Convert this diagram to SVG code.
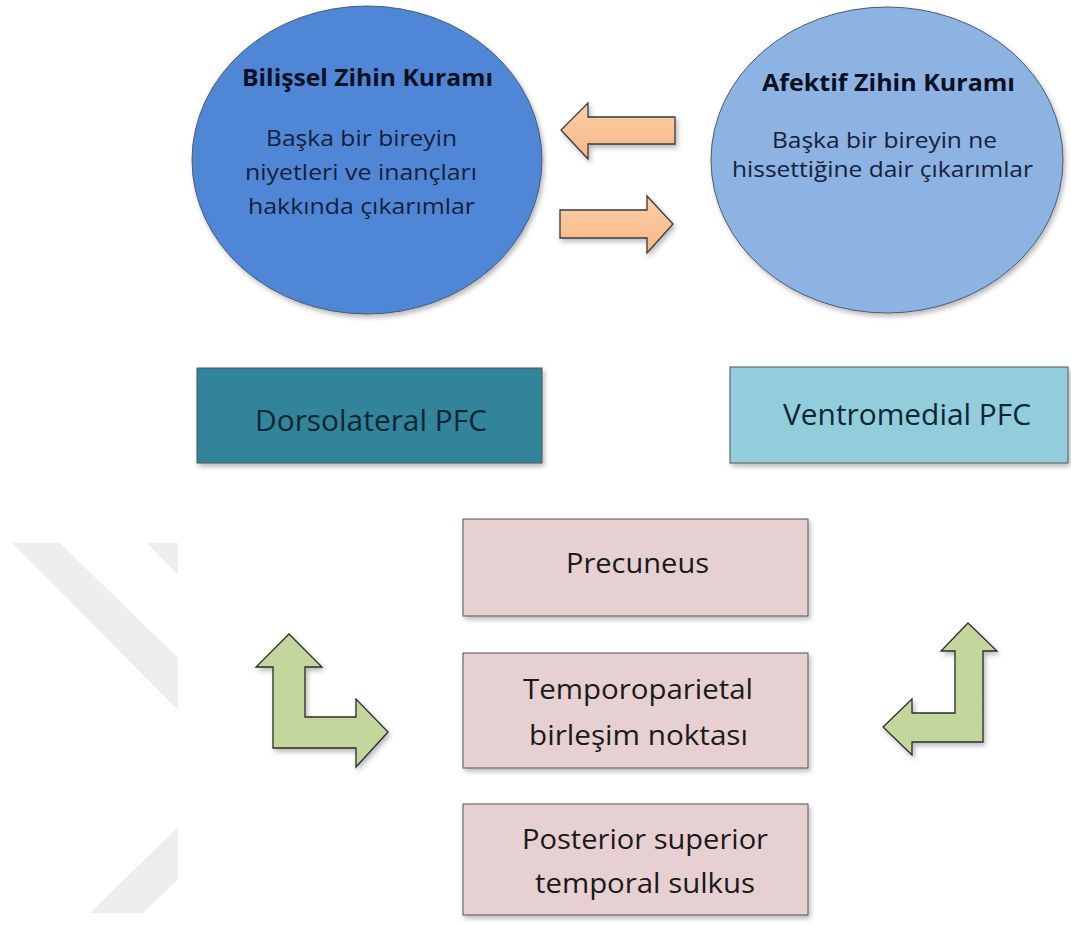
<svg xmlns="http://www.w3.org/2000/svg" width="1071" height="925" viewBox="0 0 1071 925">
<defs>
<filter id="sh" x="-10%" y="-10%" width="125%" height="130%">
<feDropShadow dx="2" dy="3" stdDeviation="2.5" flood-color="#000" flood-opacity="0.28"/>
</filter>
<linearGradient id="og" x1="0" y1="0" x2="0" y2="1">
<stop offset="0" stop-color="#FBCFA8"/>
<stop offset="1" stop-color="#F7B688"/>
</linearGradient>
</defs>
<style>
text{font-family:"Open Sans","Liberation Sans",sans-serif;}
.t{font-size:22.5px;fill:#16203a;}
.tb{font-size:22.5px;font-weight:bold;fill:#0b1024;}
.r{font-size:29px;fill:#0d2633;}
.p{font-size:27px;fill:#1a1a1a;}
.box{stroke:#555;stroke-width:1;filter:url(#sh);}
.pink{fill:#E6D0D2;}
.oarr{fill:url(#og);stroke:#3a3a3a;stroke-width:1.3;stroke-linejoin:miter;filter:url(#sh);}
.garr{fill:#C3D69B;stroke:#2c2c2c;stroke-width:1.3;filter:url(#sh);}
.wm{fill:#EEEEEE;}
</style>
<rect width="1071" height="925" fill="#ffffff"/>
<g id="watermark">
<polygon class="wm" points="12,543 60,543 178,658 178,710"/>
<polygon class="wm" points="147,543 178,543 178,575"/>
<polygon class="wm" points="178,827 178,879 143,913 90,913"/>
</g>
<g id="node-bilissel">
<ellipse cx="367" cy="160" rx="175" ry="154" fill="#4F87D6" stroke="#4a5a70" stroke-width="1" filter="url(#sh)"/>
<text class="tb" x="242" y="86" textLength="251" lengthAdjust="spacingAndGlyphs">Bilişsel Zihin Kuramı</text>
<text class="t" x="266" y="146" textLength="191" lengthAdjust="spacingAndGlyphs">Başka bir bireyin</text>
<text class="t" x="245" y="180" textLength="232" lengthAdjust="spacingAndGlyphs">niyetleri ve inançları</text>
<text class="t" x="248" y="214" textLength="227" lengthAdjust="spacingAndGlyphs">hakkında çıkarımlar</text>
</g>
<g id="node-afektif">
<ellipse cx="887" cy="160" rx="176" ry="153" fill="#8DB3E2" stroke="#4a5a70" stroke-width="1" filter="url(#sh)"/>
<text class="tb" x="762" y="91" textLength="253" lengthAdjust="spacingAndGlyphs">Afektif Zihin Kuramı</text>
<text class="t" x="772" y="148" textLength="225" lengthAdjust="spacingAndGlyphs">Başka bir bireyin ne</text>
<text class="t" x="732" y="177" textLength="301" lengthAdjust="spacingAndGlyphs">hissettiğine dair çıkarımlar</text>
</g>
<g id="node-dorsolateral">
<rect class="box" x="197" y="368" width="345" height="95" fill="#31849B"/>
<text class="r" x="255" y="431" textLength="232" lengthAdjust="spacingAndGlyphs">Dorsolateral PFC</text>
</g>
<g id="node-ventromedial">
<rect class="box" x="730" y="367" width="338" height="96" fill="#92CDDC"/>
<text class="r" x="783" y="425" textLength="248" lengthAdjust="spacingAndGlyphs">Ventromedial PFC</text>
</g>
<g id="node-precuneus">
<rect class="box pink" x="463" y="519" width="345" height="97"/>
<text class="p" x="566" y="573" textLength="143" lengthAdjust="spacingAndGlyphs">Precuneus</text>
</g>
<g id="node-temporoparietal">
<rect class="box pink" x="463" y="653" width="345" height="115"/>
<text class="p" x="523" y="699" textLength="230" lengthAdjust="spacingAndGlyphs">Temporoparietal</text>
<text class="p" x="529" y="745" textLength="219" lengthAdjust="spacingAndGlyphs">birleşim noktası</text>
</g>
<g id="node-psts">
<rect class="box pink" x="463" y="804" width="345" height="111"/>
<text class="p" x="522" y="849" textLength="246" lengthAdjust="spacingAndGlyphs">Posterior superior</text>
<text class="p" x="535" y="893" textLength="220" lengthAdjust="spacingAndGlyphs">temporal sulkus</text>
</g>
<g id="connectors">
<polygon class="oarr" points="561,130 588,103 588,117 675,117 675,144 588,144 588,159"/>
<polygon class="oarr" points="560,210 647,210 647,196 673,224 647,253 647,238 560,238"/>
<polygon class="garr" points="289,634 322,667 305,667 305,717 356,717 356,699 388,732 356,767 356,748 273,748 273,667 256,667"/>
<polygon class="garr" points="968,623 997,651 983,651 983,742 912,742 912,755 883,727 912,699 912,713 955,713 955,651 941,651"/>
</g>
</svg>
